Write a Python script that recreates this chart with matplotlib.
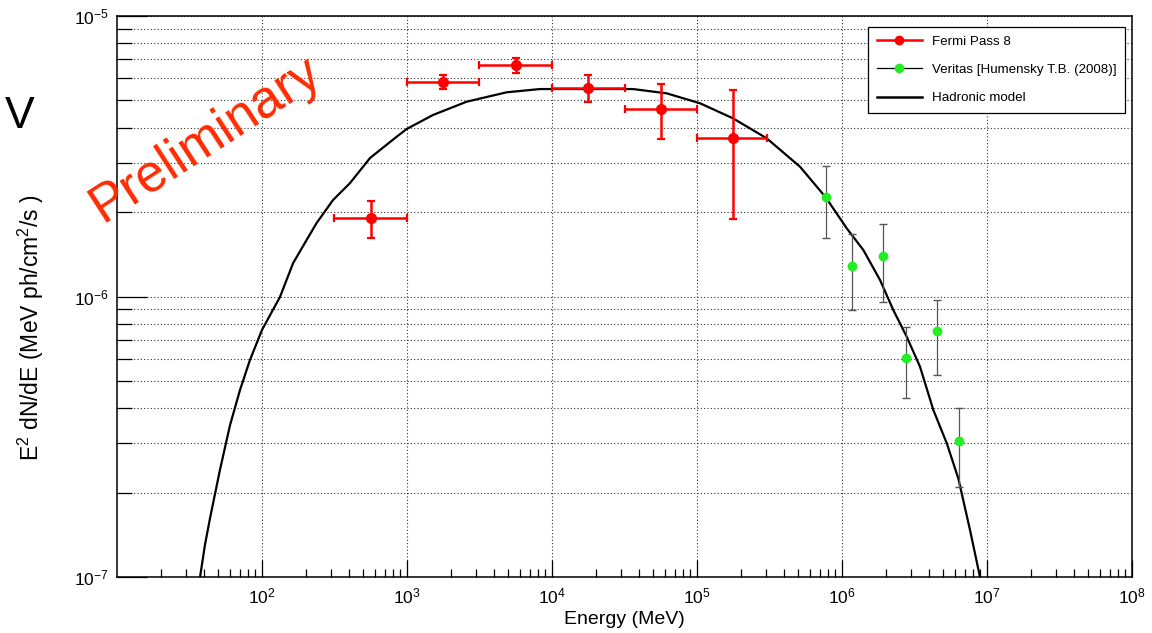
import matplotlib
matplotlib.use("Agg")
import matplotlib.pyplot as plt
import numpy as np
from matplotlib.lines import Line2D
from matplotlib.ticker import NullFormatter, LogFormatterSciNotation, FixedLocator

plt.rcParams['font.family'] = ['Liberation Sans', 'DejaVu Sans']
plt.rcParams['mathtext.fontset'] = 'custom'
plt.rcParams['mathtext.rm'] = 'Liberation Sans'
plt.rcParams['mathtext.it'] = 'Liberation Sans:italic'

# Fermi Pass 8 points (MeV, MeV ph/cm2/s)
fermi_e = [562, 1778, 5623, 17783, 56234, 177828]
fermi_e_lo = [316, 1000, 3162, 10000, 31623, 100000]
fermi_e_hi = [1000, 3162, 10000, 31623, 100000, 302000]
fermi_f = [1.90e-6, 5.82e-6, 6.69e-6, 5.52e-6, 4.66e-6, 3.67e-6]
fermi_f_lo = [1.62e-6, 5.49e-6, 6.28e-6, 4.95e-6, 3.65e-6, 1.89e-6]
fermi_f_hi = [2.195e-6, 6.14e-6, 7.10e-6, 6.18e-6, 5.74e-6, 5.46e-6]

# Veritas [Humensky T.B. (2008)]
ver_e = [7.71e5, 1.167e6, 1.91e6, 2.77e6, 4.50e6, 6.38e6]
ver_f = [2.26e-6, 1.28e-6, 1.39e-6, 6.05e-7, 7.51e-7, 3.06e-7]
ver_f_lo = [1.61e-6, 8.93e-7, 9.53e-7, 4.34e-7, 5.24e-7, 2.10e-7]
ver_f_hi = [2.92e-6, 1.67e-6, 1.82e-6, 7.80e-7, 9.74e-7, 3.99e-7]

# hadronic model curve
model_e = [37.4, 40.4, 43.8, 51.3, 60.2, 70.5, 82.6, 100, 133, 164, 203, 238, 309, 405,
           556, 849, 995, 1511, 2580, 4870, 8265, 36190, 61800, 104900, 177100, 302500,
           513300, 772000, 1.078e6, 1.403e6, 1.829e6, 2.258e6, 2.794e6, 3.451e6,
           4.264e6, 5.276e6, 6.341e6, 7.635e6, 8.946e6]
model_f = [1.00e-7, 1.30e-7, 1.62e-7, 2.41e-7, 3.48e-7, 4.64e-7, 5.94e-7, 7.60e-7, 9.96e-7,
           1.316e-6, 1.590e-6, 1.828e-6, 2.208e-6, 2.539e-6, 3.117e-6, 3.713e-6, 3.955e-6,
           4.437e-6, 4.949e-6, 5.346e-6, 5.49e-6, 5.49e-6, 5.30e-6, 4.885e-6, 4.317e-6,
           3.664e-6, 2.902e-6, 2.258e-6, 1.750e-6, 1.465e-6, 1.145e-6, 8.95e-7, 7.19e-7,
           5.62e-7, 3.94e-7, 3.00e-7, 2.247e-7, 1.471e-7, 1.0e-7]

fig = plt.figure(figsize=(11.52, 6.33), dpi=100)
ax = fig.add_axes([117/1152, 1 - 577/633, (1132 - 117)/1152, (577 - 16)/633])
ax.set_xscale('log')
ax.set_yscale('log')
ax.set_xlim(10, 1e8)
ax.set_ylim(1e-7, 1e-5)

# ticks ROOT style
ax.xaxis.set_major_locator(FixedLocator([10.0**k for k in range(2, 9)]))
ax.xaxis.set_minor_locator(FixedLocator([m * 10.0**k for k in range(1, 8) for m in range(2, 10)]))
ax.yaxis.set_major_locator(FixedLocator([1e-7, 1e-6, 1e-5]))
ax.yaxis.set_minor_locator(FixedLocator([m * 10.0**k for k in (-7, -6) for m in range(2, 10)]))
ax.xaxis.set_major_formatter(LogFormatterSciNotation())
ax.yaxis.set_major_formatter(LogFormatterSciNotation())
ax.xaxis.set_minor_formatter(NullFormatter())
ax.yaxis.set_minor_formatter(NullFormatter())
ax.tick_params(axis='x', which='major', direction='in', length=12.5, width=0.9, labelsize=12.5, pad=7)
ax.tick_params(axis='x', which='minor', direction='in', length=6, width=0.9)
ax.tick_params(axis='y', which='major', direction='in', length=21.5, width=0.9, labelsize=12.5, pad=6)
ax.tick_params(axis='y', which='minor', direction='in', length=11, width=0.9)
ax.tick_params(top=False, right=False, which='both')
for sp in ax.spines.values():
    sp.set_linewidth(1.1)

ax.grid(True, axis='x', which='major', linestyle=(0, (1, 2)), color='#333333', linewidth=0.8)
ax.grid(True, axis='y', which='both', linestyle=(0, (1, 2)), color='#333333', linewidth=0.8)
ax.set_axisbelow(True)

# model
ax.plot(model_e, model_f, color='black', linewidth=1.6, zorder=3)

# fermi
fe = np.array(fermi_e)
ff = np.array(fermi_f)
xerr = [fe - np.array(fermi_e_lo), np.array(fermi_e_hi) - fe]
yerr = [ff - np.array(fermi_f_lo), np.array(fermi_f_hi) - ff]
ax.errorbar(fe, ff, xerr=xerr, yerr=yerr, fmt='o', color='#ff0000', ecolor='#ff0000',
            markersize=7, elinewidth=1.8, capsize=3, capthick=1.6, zorder=4)

# veritas
ve = np.array(ver_e)
vf = np.array(ver_f)
vyerr = [vf - np.array(ver_f_lo), np.array(ver_f_hi) - vf]
ax.errorbar(ve, vf, yerr=vyerr, fmt='none', ecolor='#555555', elinewidth=0.9,
            capsize=3, capthick=1.0, zorder=4)
ax.plot(ve, vf, 'o', color='#22ee22', markersize=6, zorder=5)

handles = [
    Line2D([0], [0], color='#ff0000', linewidth=1.8, marker='o', markersize=6),
    Line2D([0], [0], color='black', linewidth=0.9, marker='o', markersize=6,
           markerfacecolor='#22ee22', markeredgecolor='#22ee22'),
    Line2D([0], [0], color='black', linewidth=1.8),
]
labels = ['Fermi Pass 8', 'Veritas [Humensky T.B. (2008)]', 'Hadronic model']
leg = ax.legend(handles, labels, loc='upper right', bbox_to_anchor=(0.9931, 0.9804),
                borderaxespad=0, fontsize=9.6, frameon=True, fancybox=False,
                edgecolor='black', framealpha=1, borderpad=0.63, labelspacing=1.2,
                handlelength=3.4, handletextpad=0.75)
leg.get_frame().set_linewidth(0.9)

fig.text(624/1152, 1 - 620/633, 'Energy (MeV)', ha='center', va='center', fontsize=14)
fig.text(31/1152, 1 - 328/633, r'E$^{2}$ dN/dE (MeV ph/cm$^{2}$/s )', ha='center', va='center',
         rotation=90, fontsize=16.5)

fig.text(206/1152, 1 - 139/633, 'Preliminary', color='#ff2a00', fontsize=38, rotation=33,
         ha='center', va='center')
fig.text(20/1152, 1 - 116/633, 'V', color='black', fontsize=32, ha='center', va='center')

fig.savefig('out.png', dpi=100)
